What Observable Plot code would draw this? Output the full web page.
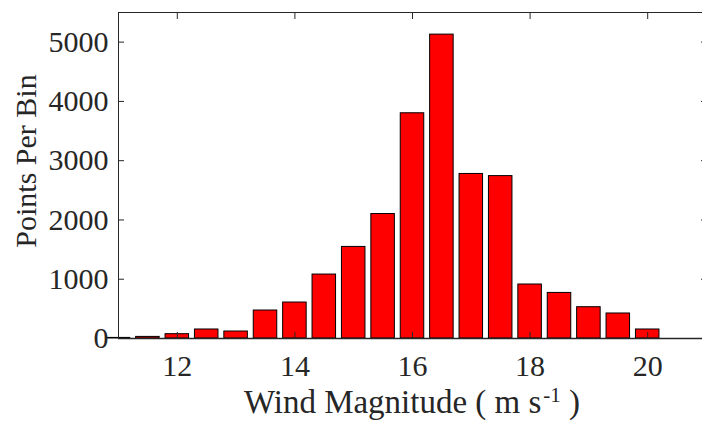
<!DOCTYPE html>
<html><head><meta charset="utf-8">
<script src="https://cdn.jsdelivr.net/npm/d3@7"></script>
<script src="https://cdn.jsdelivr.net/npm/@observablehq/plot@0.6"></script>
<style>
html,body{margin:0;padding:0;background:#fff;overflow:hidden}
svg{display:block}
svg text{font-family:"Liberation Serif","Times New Roman","DejaVu Serif",serif !important}
</style></head><body>
<div id="chart"></div>
<script>
// Bin centres (m s^-1) and counts per bin
const binCenters = [11.0, 11.5, 12.0, 12.5, 13.0, 13.5, 14.0, 14.5, 15.0, 15.5, 16.0, 16.5, 17.0, 17.5, 18.0, 18.5, 19.0, 19.5, 20.0];
const counts     = [10, 27, 73, 152, 118, 472, 607, 1079, 1545, 2100, 3800, 5127, 2776, 2740, 911, 769, 528, 422, 152];
const xTicks = [12, 14, 16, 18, 20];
const yTicks = [0, 1000, 2000, 3000, 4000, 5000];
const xLabel = "Wind Magnitude ( m s";
const xLabelSup = "-1";
const xLabelEnd = " )";
const yLabel = "Points Per Bin";

const data = binCenters.map((x, i) => ({x, count: counts[i]}));
const binSpacing = 0.5, barFrac = 0.8;
const ink = "#262626";
const fontFam = "Liberation Serif";
const fmt = d3.format("d");

const chart = Plot.plot({
  width: 702, height: 433,
  marginLeft: 118, marginRight: -4, marginTop: 12, marginBottom: 95,
  x: {domain: [11, 21]},
  y: {domain: [0, 5500]},
  style: {fontFamily: fontFam, fontSize: "30px", color: ink, background: "white", overflow: "hidden"},
  marks: [
    Plot.rectY(data, {
      x1: d => d.x - binSpacing * barFrac / 2,
      x2: d => d.x + binSpacing * barFrac / 2,
      y1: 0, y2: "count",
      fill: "#ff0000", stroke: "#000", strokeWidth: 1
    }),
    Plot.ruleY([0], {stroke: ink, strokeWidth: 1.6}),
    Plot.frame({stroke: ink, strokeWidth: 1}),
    Plot.axisX(xTicks, {anchor: "bottom", tickSize: -6, tickPadding: 22, tickFormat: fmt, label: null, stroke: ink, fill: ink, fontSize: 30, fontFamily: fontFam}),
    Plot.axisX(xTicks, {anchor: "top", tickSize: -6, tickFormat: () => "", label: null, stroke: ink}),
    Plot.axisY(yTicks, {anchor: "left", tickSize: -6, tickPadding: 16, tickFormat: fmt, label: null, stroke: ink, fill: ink, fontSize: 30, fontFamily: fontFam}),
    Plot.axisY(yTicks, {anchor: "right", tickSize: -6, tickFormat: () => "", label: null, stroke: ink})
  ]
});
document.getElementById("chart").appendChild(chart);

const svg = d3.select(chart);
const xr = chart.scale("x").range, yr = chart.scale("y").range;
const xMid = (xr[0] + xr[1]) / 2;
const yMid = (yr[0] + yr[1]) / 2;

const xl = svg.append("text")
  .attr("x", xMid).attr("y", 413)
  .attr("text-anchor", "middle")
  .attr("fill", ink).attr("font-size", "33px").attr("font-family", fontFam);
xl.append("tspan").text(xLabel);
xl.append("tspan").attr("dx", "2").attr("dy", "-11").attr("font-size", "21px").text(xLabelSup);
xl.append("tspan").attr("dy", "11").text(xLabelEnd);

svg.append("text")
  .attr("transform", `translate(36,${yMid - 14}) rotate(-90)`)
  .attr("text-anchor", "middle")
  .attr("fill", ink).attr("font-size", "30px").attr("font-family", fontFam)
  .text(yLabel);
</script>
</body></html>
